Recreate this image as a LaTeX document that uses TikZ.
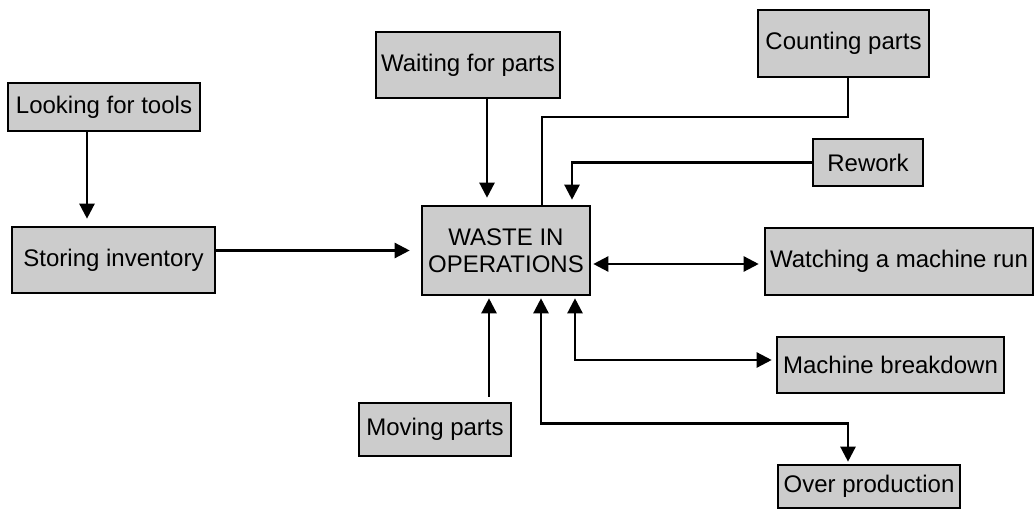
\documentclass[tikz,border=0pt]{standalone}
\usepackage{fontspec}
\setmainfont{Liberation Sans}
\usetikzlibrary{arrows.meta}
\definecolor{boxgray}{HTML}{CCCCCC}
\begin{document}
\begin{tikzpicture}[x=1pt,y=-1pt,
  box/.style={draw=black,fill=boxgray,line width=2.6pt,rectangle,inner sep=0pt,
    font=\fontsize{24}{27}\selectfont,align=center},
  conn/.style={line width=2.4pt,draw=black},
  arr/.style={conn,-{Triangle[length=15pt,width=15pt]}},
  dbl/.style={conn,{Triangle[length=15pt,width=15pt]}-{Triangle[length=15pt,width=15pt]}}]
\useasboundingbox (0,0) rectangle (1035,510);
% nodes
\node[box,minimum width=192pt,minimum height=48pt] (look) at (104,107) {Looking for tools};
\node[box,minimum width=203pt,minimum height=66pt] (store) at (113.5,260) {Storing inventory};
\node[box,minimum width=184pt,minimum height=66pt] (wait) at (468,65) {Waiting for parts};
\node[box,minimum width=171pt,minimum height=67pt] (count) at (843.5,43.5) {Counting parts};
\node[box,minimum width=110pt,minimum height=47pt] (rework) at (868,162.5) {Rework};
\node[box,minimum width=168pt,minimum height=89pt] (waste) at (506,250.5) {WASTE IN\\OPERATIONS};
\node[box,minimum width=268pt,minimum height=67pt] (watch) at (899,261.5) {Watching a machine run};
\node[box,minimum width=227pt,minimum height=56pt] (mach) at (890.5,365) {Machine breakdown};
\node[box,minimum width=152pt,minimum height=53pt] (moving) at (435,429.5) {Moving parts};
\node[box,minimum width=182pt,minimum height=43pt] (over) at (869,486.5) {Over production};
% bend points
\coordinate (cbend) at (542,117);
\coordinate (obend) at (848,423.5);
% connectors
\draw[arr,shorten >=7pt] ([xshift=-17pt]look.south) -- ([xshift=-17pt]look.south |- store.north);
\draw[arr,shorten >=11pt] (store.east |- waste.west) -- (waste.west);
\draw[arr,shorten >=7pt] ([xshift=19pt]wait.south) -- ([xshift=19pt]wait.south |- waste.north);
\draw[conn] ([xshift=4.5pt]count.south) |- (cbend) -- (cbend |- waste.north);
\draw[arr,shorten >=5pt] (rework.west) -| ([xshift=66pt]waste.north);
\draw[dbl,shorten <=2pt,shorten >=5pt] ([yshift=-2.5pt]waste.east |- watch.west) -- ([yshift=-2.5pt]watch.west);
\draw[arr,shorten <=5pt,shorten >=2pt] ([xshift=54pt]moving.north) -- ([xshift=54pt]moving.north |- waste.south);
\draw[dbl,shorten <=2pt,shorten >=4pt] ([xshift=69pt]waste.south) |- ([yshift=5pt]mach.west);
\draw[dbl,shorten <=2pt,shorten >=2pt] ([xshift=35pt]waste.south) |- (obend) -- (obend |- over.north);
\end{tikzpicture}
\end{document}
